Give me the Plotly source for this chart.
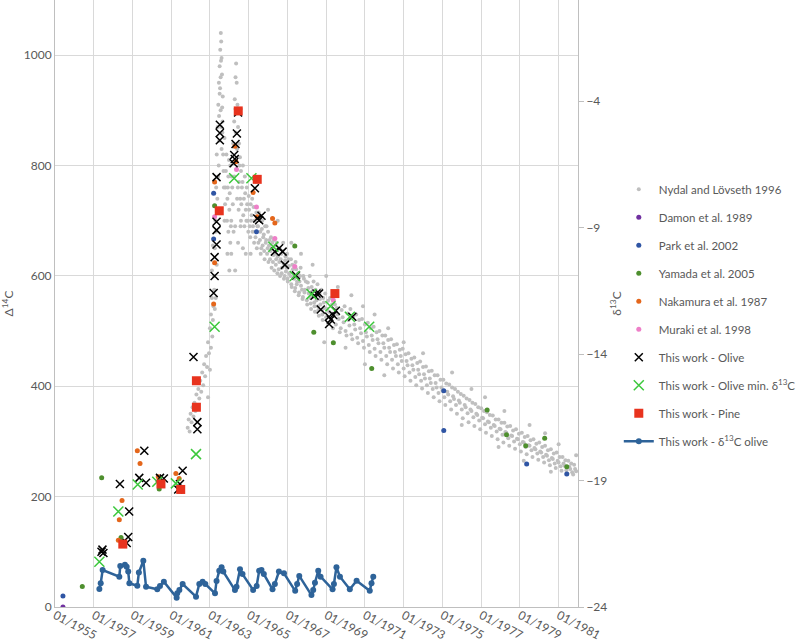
import plotly.graph_objects as go

# decimal years, values in permil
nydal_year = [1961.85, 1961.9, 1961.95, 1962.0, 1962.05, 1962.1, 1962.15, 1962.2, 1962.25, 1962.3, 1962.35, 1962.4,
              1962.45, 1962.5, 1962.55, 1962.6, 1962.65, 1962.7, 1962.75, 1962.8, 1962.85, 1962.9, 1962.95, 1963.0,
              1963.05, 1963.1, 1963.15, 1963.2, 1963.25, 1963.28, 1963.32, 1963.35, 1963.4, 1963.43, 1963.46, 1963.5,
              1963.53, 1963.56, 1963.58, 1963.6, 1963.62, 1963.52, 1963.55, 1963.58, 1963.48, 1963.6, 1963.65, 1963.66,
              1963.45, 1963.7, 1963.75, 1963.8, 1963.85, 1963.9, 1963.95, 1964.0, 1964.05, 1964.1, 1964.15, 1964.2,
              1964.25, 1964.28, 1964.32, 1964.35, 1964.38, 1964.42, 1964.45, 1964.5, 1964.55, 1964.6, 1964.3, 1964.4,
              1964.5, 1964.65, 1964.7, 1964.75, 1964.8, 1964.85, 1964.9, 1964.95, 1965.0, 1965.05, 1965.1, 1965.15,
              1965.2, 1965.25, 1965.3, 1965.35, 1965.4, 1965.45, 1965.5, 1965.55, 1965.6, 1965.65, 1965.7, 1965.75,
              1965.8, 1965.85, 1965.9, 1965.95, 1966.0, 1966.05, 1966.1, 1966.15, 1966.2, 1966.25, 1966.3, 1966.35,
              1966.4, 1966.45, 1966.5, 1966.55, 1966.6, 1966.65, 1966.7, 1966.75, 1966.8, 1966.85, 1966.9, 1966.95,
              1967.0, 1967.05, 1967.1, 1967.2, 1967.25, 1967.3, 1967.4, 1967.45, 1967.5, 1967.6, 1967.65, 1967.7,
              1967.8, 1967.85, 1967.9, 1968.0, 1968.05, 1968.1, 1968.2, 1968.25, 1968.3, 1968.4, 1968.45, 1968.5,
              1968.6, 1968.65, 1968.7, 1968.8, 1968.85, 1968.9, 1969.0, 1969.1, 1969.15, 1969.25, 1969.3, 1969.4,
              1969.5, 1969.55, 1969.65, 1969.75, 1969.8, 1969.9, 1970.0, 1970.1, 1970.2, 1970.3, 1970.4, 1970.5,
              1970.6, 1970.7, 1970.8, 1970.9, 1971.0, 1971.1, 1971.2, 1971.3, 1971.4, 1971.5, 1971.6, 1971.7,
              1971.8, 1971.9, 1972.0, 1972.1, 1972.2, 1972.3, 1972.4, 1972.5, 1972.6, 1972.7, 1972.8, 1972.9,
              1973.0, 1973.1, 1973.2, 1973.3, 1973.4, 1973.5, 1973.6, 1973.7, 1973.8, 1973.9, 1974.0, 1974.1,
              1974.2, 1974.3, 1974.4, 1974.5, 1974.6, 1974.7, 1974.8, 1974.9, 1975.0, 1975.1, 1975.2, 1975.3,
              1975.4, 1975.5, 1975.6, 1975.7, 1975.8, 1975.9, 1976.0, 1976.1, 1976.2, 1976.3, 1976.4, 1976.5,
              1976.6, 1976.7, 1976.8, 1976.9, 1977.0, 1977.1, 1977.2, 1977.3, 1977.4, 1977.5, 1977.6, 1977.7,
              1977.8, 1977.9, 1978.0, 1978.1, 1978.2, 1978.3, 1978.4, 1978.5, 1978.6, 1978.7, 1978.8, 1978.9,
              1979.0, 1979.1, 1979.2, 1979.3, 1979.4, 1979.5, 1979.6, 1979.7, 1979.8, 1979.9, 1980.0, 1980.1,
              1980.2, 1980.3, 1980.4, 1980.5, 1980.6, 1980.7, 1980.8, 1980.9, 1981.0, 1981.1, 1981.2, 1981.3,
              1981.4, 1981.5, 1981.6, 1981.7, 1981.8, 1981.9,
              1964.1, 1964.3, 1964.45, 1963.95, 1963.75, 1964.6, 1963.3, 1963.35, 1963.25,
              1963.05, 1963.12, 1963.18, 1963.22, 1963.3, 1963.38, 1963.42, 1963.47, 1963.5, 1963.55, 1963.57,
              1963.63, 1963.64, 1963.68, 1963.72, 1963.78, 1963.82, 1963.88, 1963.92, 1963.98, 1964.02, 1964.08,
              1964.12, 1964.18, 1964.22, 1964.26, 1964.33, 1964.36, 1964.4, 1964.44, 1964.48, 1964.52, 1964.56,
              1964.58, 1964.62, 1964.68, 1964.72, 1964.78, 1964.82, 1964.88, 1964.92, 1964.98, 1965.02, 1965.08,
              1965.12, 1965.18, 1965.22, 1965.28, 1965.32, 1965.38, 1965.42, 1965.48, 1965.52, 1965.58, 1965.62,
              1965.68, 1965.72, 1965.78, 1965.82, 1965.88, 1965.92, 1965.98, 1966.02, 1966.08, 1966.12, 1966.18,
              1966.22, 1966.28, 1966.32, 1966.38, 1966.42, 1966.48, 1966.52, 1966.58, 1966.62, 1966.68, 1966.72,
              1966.78, 1966.82, 1966.88, 1966.92, 1966.98, 1967.02, 1967.08, 1967.15, 1967.18, 1967.22, 1967.28,
              1967.35, 1967.38, 1967.42, 1967.48, 1967.55, 1967.58, 1967.62, 1967.68, 1967.75, 1967.78, 1967.82,
              1967.88, 1967.95, 1968.02, 1968.08, 1968.15, 1968.18, 1968.22, 1968.28, 1968.35, 1968.38, 1968.42,
              1968.48, 1968.55, 1968.58, 1968.62, 1968.68, 1968.75, 1968.78, 1968.82, 1968.88, 1968.95, 1969.05,
              1969.12, 1969.2, 1969.28, 1969.35, 1969.45, 1969.6, 1969.7, 1969.85, 1969.95, 1970.05, 1970.15,
              1970.25, 1970.35, 1970.45, 1970.55, 1970.65, 1970.75, 1970.85, 1970.95, 1971.05, 1971.15, 1971.25,
              1971.35, 1971.45, 1971.55, 1971.65, 1971.75, 1971.85, 1971.95, 1972.05, 1972.15, 1972.25, 1972.35,
              1972.45, 1972.55, 1972.65, 1972.75, 1972.85, 1972.95, 1973.05, 1973.15, 1973.25, 1973.35, 1973.45,
              1973.55, 1973.65, 1973.75, 1973.85, 1973.95, 1974.05, 1974.15, 1974.25, 1974.35, 1974.45, 1974.55,
              1974.65, 1974.75, 1974.85, 1974.95, 1975.05, 1975.15, 1975.25, 1975.35, 1975.45, 1975.55, 1975.65,
              1975.75, 1975.85, 1975.95, 1976.05, 1976.15, 1976.25, 1976.35, 1976.45, 1976.55, 1976.65, 1976.75,
              1976.85, 1976.95, 1977.05, 1977.15, 1977.25, 1977.35, 1977.45, 1977.55, 1977.65, 1977.75, 1977.85,
              1977.95, 1978.05, 1978.15, 1978.25, 1978.35, 1978.45, 1978.55, 1978.65, 1978.75, 1978.85, 1978.95,
              1979.05, 1979.15, 1979.25, 1979.35, 1979.45, 1979.55, 1979.65, 1979.75, 1979.85, 1979.95, 1980.05,
              1980.15, 1980.25, 1980.35, 1980.45, 1980.55, 1980.65, 1980.75, 1980.85, 1980.95, 1981.05, 1981.15,
              1981.25, 1981.35, 1981.45, 1981.55, 1981.65, 1981.75, 1981.85,
              1962.9, 1963.0, 1963.1, 1963.15, 1963.9, 1964.0, 1964.05, 1964.7, 1964.85, 1965.1, 1966.0, 1966.5,
              1967.2, 1967.7, 1968.3, 1969.0, 1969.6, 1970.3, 1970.9, 1971.5, 1972.2, 1968.9, 1970.0, 1971.0,
              1972.0, 1973.0, 1974.0, 1975.5, 1976.5, 1977.2, 1978.2, 1979.5, 1980.3, 1981.0, 1981.9, 1976.0,
              1977.9, 1979.2, 1980.6]
nydal_d14c = [325, 340, 318, 350, 335, 362, 345, 370, 355, 385, 365, 395,
              378, 410, 390, 425, 402, 440, 418, 455, 435, 480, 460, 505,
              530, 560, 520, 600, 650, 700, 760, 820, 870, 910, 950, 980,
              1010, 1040, 1025, 995, 965, 940, 900, 870, 845, 830, 880, 925,
              800, 790, 850, 760, 820, 740, 780, 720, 800, 700, 760, 840,
              880, 920, 960, 985, 950, 910, 870, 840, 815, 790, 690, 740,
              770, 760, 800, 740, 780, 720, 760, 700, 745, 690, 730, 710,
              680, 725, 700, 670, 715, 690, 660, 705, 680, 650, 700, 670,
              645, 690, 665, 640, 680, 655, 630, 670, 650, 625, 665, 640,
              620, 660, 635, 612, 650, 630, 605, 645, 622, 600, 635, 615,
              595, 630, 605, 585, 620, 598, 578, 612, 590, 570, 600, 582,
              562, 595, 575, 556, 588, 568, 550, 580, 562, 545, 575, 556,
              538, 568, 548, 530, 560, 542, 525, 555, 535, 518, 548, 528,
              512, 542, 522, 505, 538, 516, 500, 532, 510, 494, 526, 503,
              488, 520, 496, 482, 512, 490, 475, 505, 484, 468, 498, 478,
              462, 492, 470, 455, 484, 462, 448, 475, 455, 440, 466, 446,
              432, 458, 438, 425, 450, 430, 417, 442, 422, 410, 435, 414,
              402, 427, 406, 395, 420, 398, 388, 412, 392, 380, 405, 385,
              373, 398, 377, 366, 390, 370, 358, 383, 362, 351, 375, 355,
              344, 368, 348, 338, 360, 342, 331, 353, 335, 325, 347, 328,
              318, 340, 322, 312, 334, 316, 306, 328, 310, 300, 322, 304,
              295, 316, 298, 290, 310, 292, 284, 304, 286, 278, 298, 280,
              272, 292, 274, 266, 286, 268, 260, 280, 262, 255, 272, 256,
              248, 265, 250, 244, 258, 246,
              640, 610, 660, 680, 700, 700, 560, 620, 540,
              470, 490, 545, 575, 680, 740, 780, 890, 930, 960, 990,
              905, 860, 820, 760, 730, 790, 700, 760, 810, 750, 690,
              780, 730, 680, 780, 860, 900, 830, 760, 720, 800, 740,
              690, 730, 770, 710, 690, 750, 700, 730, 680, 720, 670,
              700, 740, 690, 660, 700, 680, 650, 690, 715, 665, 640,
              685, 655, 675, 630, 660, 690, 650, 625, 665, 645, 615,
              660, 638, 610, 655, 630, 605, 648, 625, 600, 640, 615,
              660, 595, 628, 608, 640, 590, 618, 600, 630, 580, 612,
              595, 572, 625, 585, 605, 565, 590, 615, 575, 558, 600,
              570, 590, 548, 578, 600, 560, 540, 572, 590, 552, 535,
              565, 585, 545, 528, 558, 575, 538, 520, 552, 568, 540,
              515, 560, 532, 505, 548, 530, 498, 525, 545, 492, 520,
              540, 485, 512, 530, 478, 505, 522, 470, 498, 515, 462,
              492, 508, 455, 485, 500, 448, 478, 492, 440, 470, 485,
              432, 462, 476, 425, 455, 468, 418, 446, 460, 410, 438,
              452, 402, 430, 445, 396, 422, 436, 388, 414, 428, 380,
              406, 420, 373, 398, 412, 366, 390, 403, 358, 382, 395,
              350, 374, 386, 342, 366, 378, 335, 358, 370, 328, 350,
              362, 322, 343, 355, 316, 336, 348, 310, 330, 340, 304,
              323, 334, 298, 317, 327, 292, 311, 320, 287, 305, 314,
              282, 299, 308, 277, 293, 302, 272, 288, 296, 267, 282,
              290, 262, 276, 284, 257, 270, 278, 252, 265, 272, 247,
              260, 266, 242, 254, 260, 240, 250,
              380, 430, 610, 655, 640, 610, 660, 650, 640, 640, 720, 700,
              660, 640, 620, 600, 580, 565, 545, 530, 505, 480, 470, 440,
              420, 480, 460, 425, 395, 380, 355, 330, 315, 295, 275, 330,
              290, 265, 245]

damon_year = [1955.41]
damon_d14c = [0]

park_year = [1955.41, 1963.19, 1963.19, 1965.40, 1975.07, 1975.07, 1979.35, 1981.42]
park_d14c = [20, 750, 667, 680, 392, 320, 259, 241]

yamada_year = [1956.41, 1957.41, 1958.41, 1960.38, 1963.24, 1967.38, 1968.36, 1969.37, 1971.35,
               1977.31, 1978.31, 1979.30, 1980.28, 1981.42]
yamada_d14c = [37, 234, 126, 214, 727, 654, 498, 479, 432, 357, 312, 292, 306, 254]

nakamura_year = [1958.27, 1958.32, 1958.46, 1959.25, 1959.39, 1960.33, 1961.24, 1961.41, 1963.19,
                 1963.24, 1963.24, 1964.29, 1964.34, 1965.23, 1965.44, 1966.23, 1966.35]
nakamura_d14c = [121, 158, 193, 283, 260, 236, 242, 233, 549, 624, 770, 835, 807, 751, 707, 704, 696]

muraki_year = [1963.24, 1964.37, 1965.40, 1966.35, 1967.38, 1969.37]
muraki_d14c = [707, 793, 725, 668, 617, 556]

olive_year = [1957.40, 1957.45, 1957.50, 1958.35, 1958.70, 1958.78, 1958.83, 1959.35, 1959.61, 1959.70,
              1960.42, 1960.62, 1961.36, 1961.45, 1961.59, 1962.15, 1962.35, 1962.35,
              1963.19, 1963.24, 1963.24, 1963.34, 1963.34, 1963.34, 1963.34, 1963.51, 1963.51, 1963.51,
              1964.22, 1964.25, 1964.28, 1964.32, 1964.39, 1964.45, 1965.32, 1965.44, 1965.54, 1965.66,
              1966.35, 1966.57, 1966.75, 1966.87, 1967.44, 1968.40, 1968.50, 1968.63, 1968.72,
              1969.15, 1969.15, 1969.24, 1969.36, 1969.50, 1970.35]
olive_d14c = [100, 104, 98, 223, 116, 127, 173, 234, 283, 225,
              234, 233, 213, 223, 247, 453, 335, 322,
              569, 600, 634, 657, 683, 698, 779, 846, 859, 874,
              804, 819, 812, 839, 858, 896, 759, 704, 701, 709,
              644, 650, 644, 620, 601, 564, 568, 568, 539,
              526, 513, 521, 529, 537, 526]

olive_min_year = [1957.29, 1958.27, 1959.27, 1960.28, 1961.24, 1962.28, 1963.24, 1964.25, 1965.14,
                  1966.27, 1967.38, 1968.24, 1969.22, 1970.22, 1971.22]
olive_min_d14c = [82, 173, 222, 227, 224, 277, 508, 777, 777, 653, 600, 567, 545, 526, 508]

pine_year = [1958.50, 1960.47, 1961.49, 1962.30, 1962.30, 1963.48, 1964.46, 1965.44, 1969.45]
pine_d14c = [114, 223, 213, 362, 410, 718, 899, 775, 568]

d13c_year = [1957.29, 1957.36, 1957.46, 1958.32, 1958.37, 1958.61, 1958.70, 1958.78, 1958.84, 1959.25,
             1959.33, 1959.56, 1959.70, 1960.28, 1960.42, 1960.62, 1961.28, 1961.31, 1961.42, 1961.59,
             1962.28, 1962.45, 1962.62, 1962.76, 1963.26, 1963.34, 1963.48, 1963.60, 1963.69, 1964.29,
             1964.37, 1964.55, 1964.68, 1965.23, 1965.41, 1965.54, 1965.66, 1965.78, 1966.23, 1966.35,
             1966.56, 1966.82, 1967.40, 1967.50, 1967.61, 1968.24, 1968.33, 1968.42, 1968.59, 1968.71,
             1969.33, 1969.40, 1969.53, 1969.71, 1970.22, 1970.57, 1971.25, 1971.34, 1971.43]
d13c_olive = [-23.29, -23.06, -22.54, -22.80, -22.38, -22.33, -22.41, -22.60, -23.06, -23.16,
              -22.64, -22.17, -23.20, -23.30, -23.17, -23.00, -23.63, -23.46, -23.33, -23.09,
              -23.59, -23.09, -23.00, -23.09, -23.46, -22.97, -22.57, -22.43, -22.60, -23.33,
              -23.20, -22.51, -22.70, -23.33, -23.17, -22.57, -22.54, -22.70, -23.30, -23.09,
              -22.60, -22.67, -23.36, -23.09, -22.77, -23.53, -23.33, -23.04, -22.57, -22.80,
              -23.30, -23.09, -22.43, -22.80, -23.30, -22.96, -23.36, -23.06, -22.80]

tick_years = list(range(1955, 1982, 2))
tick_labels = ["01/%d" % y for y in tick_years]

FONT = "Lato, Open Sans, sans-serif"
TXT = "#595959"

fig = go.Figure()

dots = [
    ("Nydal and Lövseth 1996", nydal_year, nydal_d14c, "#BFBFBF", 4),
    ("Damon et al. 1989", damon_year, damon_d14c, "#7030A0", 5),
    ("Park et al. 2002", park_year, park_d14c, "#2F55A4", 5),
    ("Yamada et al. 2005", yamada_year, yamada_d14c, "#4E8F2E", 5),
    ("Nakamura et al. 1987", nakamura_year, nakamura_d14c, "#E4661B", 5),
    ("Muraki et al. 1998", muraki_year, muraki_d14c, "#EE7FC8", 5),
]
for i, (name, xs, ys, col, sz) in enumerate(dots):
    fig.add_trace(go.Scatter(x=xs, y=ys, mode="markers", name=name, legendgroup=str(i),
                             marker=dict(color=col, size=sz, line=dict(width=0))))

fig.add_trace(go.Scatter(x=olive_year, y=olive_d14c, mode="markers", name="This work - Olive",
                         legendgroup="6",
                         marker=dict(symbol="x-thin", size=8, line=dict(color="black", width=1.5))))
fig.add_trace(go.Scatter(x=olive_min_year, y=olive_min_d14c, mode="markers",
                         name="This work - Olive min. δ<sup>13</sup>C", legendgroup="7",
                         marker=dict(symbol="x-thin", size=10, line=dict(color="#3CC83C", width=1.5))))
fig.add_trace(go.Scatter(x=pine_year, y=pine_d14c, mode="markers", name="This work - Pine",
                         legendgroup="8",
                         marker=dict(symbol="square", size=9, color="#E8331E", line=dict(width=0))))
fig.add_trace(go.Scatter(x=d13c_year, y=d13c_olive, mode="lines+markers", yaxis="y2",
                         name="This work - δ<sup>13</sup>C olive", legendgroup="9",
                         line=dict(color="#2E6399", width=2.5),
                         marker=dict(color="#2E6399", size=6)))

fig.update_layout(
    width=799, height=643,
    margin=dict(l=55, r=221, t=0, b=36, autoexpand=False),
    plot_bgcolor="white", paper_bgcolor="white",
    font=dict(family=FONT, size=12, color=TXT),
    xaxis=dict(range=[1955, 1982], tickvals=tick_years, ticktext=tick_labels, tickangle=28,
               showgrid=True, gridcolor="#D9D9D9", gridwidth=1, showline=True, linecolor="#BFBFBF",
               zeroline=False, ticks="", automargin=False, ticklabelstandoff=-4,
               tickfont=dict(size=12, color=TXT)),
    yaxis=dict(range=[0, 1100], dtick=200, tick0=0, showgrid=True, gridcolor="#D9D9D9",
               showline=True, linecolor="#BFBFBF", zeroline=False, ticks="", automargin=False,
               title=dict(text="Δ<sup>14</sup>C", font=dict(size=12, color=TXT), standoff=12)),
    yaxis2=dict(range=[-24, 0], tick0=-24, dtick=5, overlaying="y", side="right", showgrid=False,
                showline=True, linecolor="#BFBFBF", zeroline=False, ticks="outside", ticklen=5,
                tickcolor="#BFBFBF", automargin=False,
                title=dict(text="δ<sup>13</sup>C", font=dict(size=12, color=TXT), standoff=6)),
    legend=dict(x=1.078, xanchor="left", y=0.712, yanchor="top", tracegroupgap=9,
                font=dict(size=11.5, color=TXT), bgcolor="rgba(0,0,0,0)"),
    showlegend=True,
)

# the page body has a default 8px margin; drop it so the figure sits at the window origin
fig.write_html("out.html", config={"displayModeBar": False},
               post_script="document.body.style.margin='0';")
